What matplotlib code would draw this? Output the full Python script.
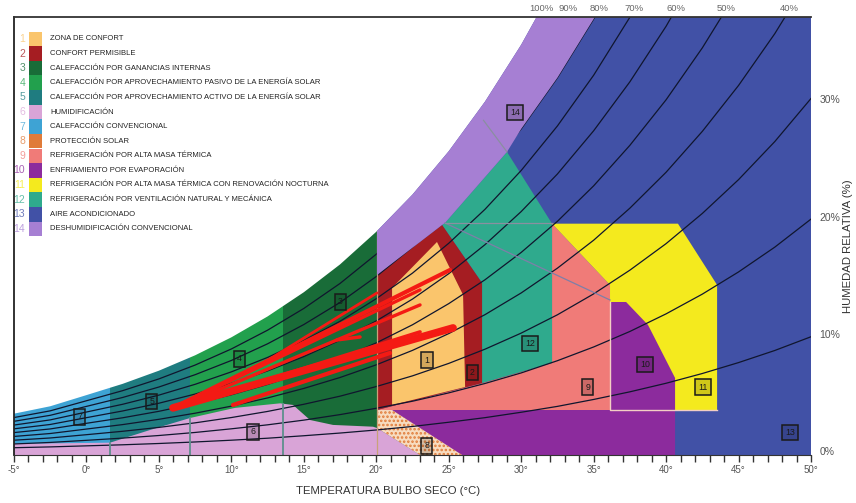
import numpy as np
import matplotlib.pyplot as plt
from matplotlib.patches import Polygon, Rectangle

plt.rcParams['font.family'] = ['Liberation Sans', 'DejaVu Sans']
plt.rcParams['hatch.linewidth'] = 1.2

# rejilla de temperatura de bulbo seco (°C)
temps = [-5, -2.5, 0, 2.5, 5, 7.5, 10, 12.5, 15, 17.5, 20, 22.5, 25,
         27.5, 30, 32.5, 35, 37.5, 40, 42.5, 45, 47.5, 50]

hr100 = [3.22, 3.85, 4.80, 5.76, 6.88, 8.19, 9.72, 11.50, 13.56, 15.93, 18.71,
         21.88, 25.57, 29.79, 34.64, 40.19]
hr90 = [2.89, 3.46, 4.32, 5.18, 6.18, 7.36, 8.73, 10.33, 12.18, 14.31, 16.80,
        19.64, 22.94, 26.71, 31.04, 36.00, 41.67]
hr80 = [2.57, 3.08, 3.84, 4.60, 5.49, 6.54, 7.75, 9.17, 10.81, 12.69, 14.90,
        17.41, 20.32, 23.65, 27.47, 31.83, 36.83, 42.55]
hr70 = [2.25, 2.69, 3.36, 4.02, 4.80, 5.72, 6.78, 8.01, 9.44, 11.09, 13.01,
        15.19, 17.73, 20.62, 23.93, 27.72, 32.04, 36.98, 42.57]
hr60 = [1.93, 2.30, 2.88, 3.45, 4.11, 4.89, 5.80, 6.86, 8.08, 9.48, 11.12,
        12.98, 15.14, 17.61, 20.43, 23.63, 27.31, 31.48, 36.21, 41.60]
hr50 = [1.61, 1.92, 2.40, 2.87, 3.42, 4.08, 4.83, 5.71, 6.72, 7.89, 9.25,
        10.79, 12.59, 14.62, 16.95, 19.60, 22.62, 26.07, 29.95, 34.37, 39.36]
hr40 = [1.28, 1.53, 1.91, 2.29, 2.74, 3.26, 3.86, 4.56, 5.37, 6.30, 7.38,
        8.61, 10.04, 11.65, 13.50, 15.61, 17.99, 20.72, 23.78, 27.26, 31.17,
        35.58, 40.59]
hr30 = [0.96, 1.15, 1.43, 1.72, 2.05, 2.44, 2.89, 3.41, 4.02, 4.71, 5.53,
        6.44, 7.50, 8.71, 10.08, 11.64, 13.42, 15.44, 17.70, 20.27, 23.15,
        26.39, 30.06]
hr20 = [0.64, 0.77, 0.95, 1.14, 1.36, 1.62, 1.93, 2.27, 2.67, 3.14, 3.68,
        4.28, 4.99, 5.79, 6.69, 7.73, 8.90, 10.22, 11.72, 13.40, 15.29,
        17.40, 19.79]
hr10 = [0.32, 0.39, 0.48, 0.57, 0.68, 0.81, 0.96, 1.13, 1.34, 1.57, 1.83,
        2.13, 2.49, 2.88, 3.34, 3.84, 4.43, 5.08, 5.81, 6.64, 7.57, 8.60, 9.77]
hr_niveles = [100, 90, 80, 70, 60, 50, 40, 30, 20, 10]
hr_curvas = [hr100, hr90, hr80, hr70, hr60, hr50, hr40, hr30, hr20, hr10]

# bandas de calefaccion (limites en °C)
limites_cal = [-5, 1.63, 7.15, 13.56, 20.05, 50]
zonas_cal = [7, 5, 4, 3, 13]

# poligonos de las zonas (°C, %)
zona1 = [(21.09, 3.96), (21.09, 13.93), (24.19, 17.84), (25.99, 13.33), (26.13, 5.49)]
zona2 = [(20.05, 3.53), (20.05, 15.03), (24.54, 19.29), (27.30, 14.35), (27.30, 5.83)]
zona6 = [(-5, -0.3), (-5, 0.65), (1.63, 0.75), (4.39, 1.83), (7.15, 2.85),
         (10.25, 3.71), (13.36, 4.10), (14.26, 3.96), (14.88, 3.28),
         (15.43, 2.68), (17.02, 2.26), (19.78, 2.11), (20.05, 2.0), (23.02, -0.3)]
zona8 = [(20.05, 3.53), (21.09, 3.53), (25.92, -0.3), (23.02, -0.3), (20.05, 2.0)]
zona9 = [(32.13, 19.4), (36.13, 14.18), (36.13, 3.53), (20.05, 3.53),
         (27.30, 5.83), (32.13, 7.54)]
zona10 = [(36.13, 12.73), (37.24, 12.73), (38.75, 10.78), (40.62, 6.26),
          (40.62, -0.3), (23.02, -0.3), (20.05, 3.53), (36.13, 3.53)]
zona11 = [(32.13, 19.4), (40.82, 19.4), (43.52, 14.18), (43.52, 3.53),
          (36.13, 3.53), (36.13, 14.18)]
zona12 = [(24.74, 19.46), (29.02, 25.51), (32.13, 19.4), (32.13, 7.54),
          (27.30, 5.83), (27.30, 14.35), (24.54, 19.29)]
zona14_base = [(29.02, 25.51), (24.74, 19.46), (24.54, 19.29), (20.05, 15.03), (20.05, 40)]

# lineas climaticas mensuales (inicio -> fin)
clima_t0 = [5.97, 6.32, 6.80, 5.97, 7.15, 10.11, 17.29, 11.77]
clima_h0 = [3.71, 3.88, 4.05, 3.71, 4.05, 3.96, 9.50, 7.20]
clima_t1 = [25.09, 23.02, 23.02, 25.30, 23.02, 20.95, 18.88, 20.05]
clima_h1 = [15.46, 13.76, 12.48, 10.52, 10.18, 8.39, 9.75, 13.50]
clima_grosor = [3.0, 2.4, 2.4, 5.5, 2.6, 3.0, 2.5, 2.0]

colores = {1: '#FAC56C', 2: '#A51D22', 3: '#196C38', 4: '#22A04D', 5: '#1F7C80',
           6: '#D9A4D7', 7: '#3EA3D4', 8: '#E07B39', 9: '#F07B78', 10: '#8C2B9D',
           11: '#F4EA1E', 12: '#2FAA8D', 13: '#4151A6', 14: '#A67FD3'}

nombres = ['ZONA DE CONFORT', 'CONFORT PERMISIBLE',
           'CALEFACCIÓN POR GANANCIAS INTERNAS',
           'CALEFACCIÓN POR APROVECHAMIENTO PASIVO DE LA ENERGÍA SOLAR',
           'CALEFACCIÓN POR APROVECHAMIENTO ACTIVO DE LA ENERGÍA SOLAR',
           'HUMIDIFICACIÓN', 'CALEFACCIÓN CONVENCIONAL', 'PROTECCIÓN SOLAR',
           'REFRIGERACIÓN POR ALTA MASA TÉRMICA', 'ENFRIAMIENTO POR EVAPORACIÓN',
           'REFRIGERACIÓN POR ALTA MASA TÉRMICA CON RENOVACIÓN NOCTURNA',
           'REFRIGERACIÓN POR VENTILACIÓN NATURAL Y MECÁNICA',
           'AIRE ACONDICIONADO', 'DESHUMIDIFICACIÓN CONVENCIONAL']

etiquetas_pos = {1: (23.50, 7.79), 2: (26.61, 6.69), 3: (17.50, 12.73),
                 4: (10.53, 7.88), 5: (4.52, 4.22), 6: (11.49, 1.66),
                 7: (-0.45, 2.94), 8: (23.50, 0.47), 9: (34.61, 5.49),
                 10: (38.55, 7.37), 11: (42.55, 5.49), 12: (30.61, 9.16),
                 13: (48.55, 1.58), 14: (29.58, 28.83)}

W, H = 856, 503
fig = plt.figure(figsize=(W / 100, H / 100), dpi=100)
ax = fig.add_axes([14 / W, 48 / H, 797 / W, 438 / H])
ax.set_xlim(-5, 50)
ax.set_ylim(-0.3, 37)

# recinto bajo la curva de saturacion
t_sat = temps[:len(hr100)]
recinto = Polygon([(-5, -1)] + list(zip(t_sat, hr100)) + [(50, 60), (50, -1)],
                  closed=True, facecolor='none', edgecolor='none')
ax.add_patch(recinto)


def pinta(patch, z):
    patch.set_zorder(z)
    ax.add_patch(patch)
    patch.set_clip_path(recinto)
    return patch


for i, num in enumerate(zonas_cal):
    pinta(Rectangle((limites_cal[i], -1), limites_cal[i + 1] - limites_cal[i], 60,
                    facecolor=colores[num], lw=0), 1)

orden = [(zona9, 9), (zona12, 12), (zona11, 11), (zona10, 10), (zona6, 6),
         (zona2, 2), (zona1, 1)]
for k, (pts, num) in enumerate(orden):
    pinta(Polygon(pts, closed=True, facecolor=colores[num], lw=0), 1.1 + k * 0.05)

pinta(Polygon(zona8, closed=True, facecolor='#F7DCC0', edgecolor=colores[8],
              hatch='....', lw=0), 1.45)

# curvas de humedad relativa
for curva in hr_curvas[1:]:
    ln, = ax.plot(temps[:len(curva)], curva, color='#10162E', lw=0.9, zorder=2)
    ln.set_clip_path(recinto)

# lineas verticales dentro de la humidificacion
top_t = [p[0] for p in zona6[1:-1]]
top_h = [p[1] for p in zona6[1:-1]]
for t in limites_cal[1:4]:
    ax.plot([t, t], [-0.3, np.interp(t, top_t, top_h)], color='#5E8F8C', lw=1.3, zorder=2.1)
t20 = limites_cal[4]
ax.plot([t20, t20], [-0.3, np.interp(t20, t_sat, hr100)], color='#C9A27A', lw=0.9, zorder=2.1)

# deshumidificacion (tapa las curvas)
hr80_tramo = [(t, h) for t, h in zip(temps, hr80) if t >= 30][::-1]
zona14 = zona14_base + [(hr80_tramo[0][0], 45)] + hr80_tramo
pinta(Polygon(zona14, closed=True, facecolor=colores[14], lw=0), 2.2)

# contornos finos
ax.plot([24.74, 36.13], [19.46, 12.90], color='#7E7FA8', lw=0.9, zorder=2.3)
ax.plot([24.74, 32.13], [19.46, 19.46], color='#8A8FA0', lw=0.9, zorder=2.3)
ax.plot([27.40, 29.02], [28.20, 25.51], color='#8A8FA0', lw=0.9, zorder=2.3)
ax.plot([36.13, 36.13, 43.52], [12.73, 3.53, 3.53], color='#F3CFC4', lw=1.0, zorder=2.3)

# lineas climaticas
for t0, h0, t1, h1, g in zip(clima_t0, clima_h0, clima_t1, clima_h1, clima_grosor):
    ax.plot([t0, t1], [h0, h1], color='#F41A14', lw=g, solid_capstyle='round', zorder=3)

# etiquetas de zona
for num, (t, h) in etiquetas_pos.items():
    ax.text(t, h, str(num), ha='center', va='center', fontsize=6.3, color='#1A1A1A',
            zorder=5, bbox=dict(boxstyle='square,pad=0.35', fc=(0, 0, 0, 0.15),
                                ec='#1A1A1A', lw=1.1))

# etiquetas superiores de humedad relativa
for lvl, curva in zip(hr_niveles[:7], hr_curvas[:7]):
    tc = np.interp(37, curva, temps[:len(curva)])
    ax.text(tc + 0.3, 37.35, f'{lvl}%', ha='center', va='bottom', fontsize=6.8,
            color='#666666', clip_on=False)

# ejes
ax.set_xticks(range(-5, 51, 5))
ax.set_xticklabels([f'{t}°' for t in range(-5, 51, 5)])
ax.set_xticks(range(-5, 51, 1), minor=True)
ax.tick_params(axis='x', which='both', direction='out', length=5, width=1.0,
               colors='#333333', labelsize=7, pad=2)
ax.tick_params(axis='x', which='major', labelcolor='#555555')
ax.yaxis.tick_right()
ax.set_yticks([0, 10, 20, 30])
ax.set_yticklabels(['0%', '10%', '20%', '30%'])
ax.tick_params(axis='y', length=0, pad=6, labelsize=7.5, labelcolor='#555555')
ax.spines['right'].set_visible(False)
ax.spines['left'].set_linewidth(1.3)
ax.spines['left'].set_color('#222222')
ax.spines['top'].set_linewidth(1.3)
ax.spines['top'].set_color('#333333')
ax.spines['bottom'].set_color('#333333')

fig.text(388 / W, 1 - 491 / H, 'TEMPERATURA BULBO SECO (°C)', ha='center', va='center',
         fontsize=8.2, color='#333333')
fig.text(848 / W, 1 - 246 / H, 'HUMEDAD RELATIVA (%)', ha='center', va='center',
         rotation=90, fontsize=8.2, color='#333333')

# leyenda
for i, nombre in enumerate(nombres):
    num = i + 1
    cy = 39 + i * 14.6
    fig.patches.append(Rectangle((29 / W, 1 - (cy + 7.3) / H), 13 / W, 14.6 / H,
                                 transform=fig.transFigure, facecolor=colores[num],
                                 lw=0, zorder=3))
    fig.text(25 / W, 1 - cy / H, str(num), ha='right', va='center', fontsize=7.5,
             color=colores[num], alpha=0.75)
    fig.text(50 / W, 1 - cy / H, nombre, ha='left', va='center', fontsize=5.5,
             color='#222222')

fig.savefig('out.png', dpi=100)
